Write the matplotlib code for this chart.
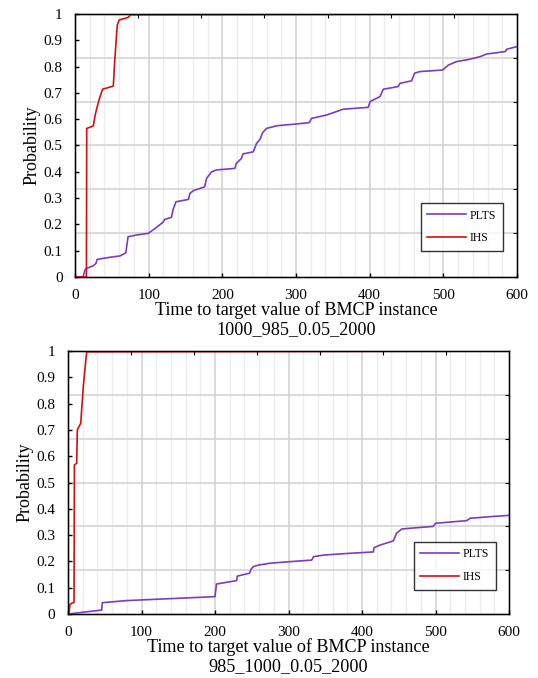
import numpy as np
import matplotlib
matplotlib.use("Agg")
import matplotlib.pyplot as plt

plt.rcParams['font.family'] = ['Liberation Serif', 'DejaVu Serif']

# ---------------- data ----------------
# Top chart: instance 1000_985_0.05_2000
top_plts_t = [0, 11, 13.6, 16, 25, 28.5, 30, 47.5, 61, 69, 72, 84, 99.5, 106, 113, 119, 122, 131, 133,
              137, 154, 156, 160.5, 176, 178.6, 185.5, 192, 217, 219, 226, 228, 242, 246.5, 251, 254.7,
              260, 273.7, 301, 318, 321, 341.7, 364, 398, 400.5, 414, 418.5, 438.6, 441, 457, 461, 468,
              499, 507, 518, 536, 550, 559, 584, 586, 600]
top_plts_p = [0, 0, 0.027, 0.033, 0.043, 0.052, 0.067, 0.075, 0.08, 0.092, 0.153, 0.16, 0.166, 0.179,
              0.194, 0.207, 0.219, 0.227, 0.255, 0.286, 0.295, 0.318, 0.328, 0.343, 0.375, 0.40, 0.407,
              0.413, 0.432, 0.451, 0.468, 0.476, 0.508, 0.523, 0.549, 0.565, 0.575, 0.582, 0.587, 0.603,
              0.616, 0.638, 0.645, 0.667, 0.686, 0.714, 0.724, 0.736, 0.746, 0.775, 0.781, 0.787, 0.806,
              0.819, 0.828, 0.838, 0.848, 0.857, 0.866, 0.876]
top_ihs_t = [0, 15.5, 15.9, 24.8, 27, 29.4, 34, 37.5, 52, 54, 57.4, 60, 72, 75.5, 600]
top_ihs_p = [0, 0, 0.565, 0.574, 0.61, 0.64, 0.686, 0.714, 0.726, 0.825, 0.958, 0.977, 0.987, 0.997, 1.0]

# Bottom chart: instance 985_1000_0.05_2000
bot_plts_t = [0.4, 45.8, 46.7, 80, 200, 202, 229.5, 230.3, 247, 249, 252, 259, 275, 302, 331.6, 334,
              347.8, 379, 415.5, 416.3, 424.5, 442.6, 447, 454, 465, 497, 500, 542.5, 547, 574, 600]
bot_plts_p = [0, 0.015, 0.043, 0.051, 0.066, 0.114, 0.127, 0.144, 0.155, 0.17, 0.18, 0.186, 0.193,
              0.199, 0.205, 0.218, 0.224, 0.23, 0.236, 0.252, 0.262, 0.278, 0.307, 0.323, 0.326, 0.333,
              0.345, 0.355, 0.364, 0.37, 0.375]
bot_ihs_t = [1.5, 2.5, 5, 8.2, 8.7, 11.8, 12.7, 17.3, 20.8, 23, 25.4, 600]
bot_ihs_p = [0, 0.035, 0.041, 0.044, 0.567, 0.573, 0.70, 0.725, 0.864, 0.928, 0.997, 1.0]

xticks = [0, 100, 200, 300, 400, 500, 600]
yticks = [0, 0.1, 0.2, 0.3, 0.4, 0.5, 0.6, 0.7, 0.8, 0.9, 1]
ytick_labels = ['0', '0.1', '0.2', '0.3', '0.4', '0.5', '0.6', '0.7', '0.8', '0.9', '1']
series_names = ['PLTS', 'IHS']
instances = ['1000_985_0.05_2000', '985_1000_0.05_2000']

PURPLE = '#7a3dbb'
RED = '#d11010'

fig = plt.figure(figsize=(5.38, 6.78), dpi=100)


def make_panel(rect, plts_t, plts_p, ihs_t, ihs_p, inst, leg_anchor):
    ax = fig.add_axes(rect)
    ax.set_xlim(0, 600)
    ax.set_ylim(0, 1)
    # minor vertical grid every 20
    for x in np.arange(20, 600, 20):
        if x % 100 == 0:
            ax.axvline(x, color='#d4d4d4', lw=1.2, zorder=0)
        else:
            ax.axvline(x, color='#ececec', lw=1.0, zorder=0)
    for y in np.arange(1, 6) / 6:
        ax.axhline(y, color='#d4d4d4', lw=1.2, zorder=0)
    l1, = ax.plot(plts_t, plts_p, color=PURPLE, lw=1.2, zorder=3)
    l2, = ax.plot(ihs_t, ihs_p, color=RED, lw=1.2, zorder=4)
    ax.set_xticks(xticks)
    ax.set_xticklabels([str(v) for v in xticks])
    ax.set_yticks(yticks)
    ax.set_yticklabels(ytick_labels)
    ax.tick_params(direction='in', length=3, width=1, labelsize=11, pad=9)
    ax.tick_params(axis='y', pad=9)
    for s in ax.spines.values():
        s.set_linewidth(1.0)
    ax.set_ylabel('Probability', fontsize=13, labelpad=2)
    ax.set_xlabel('Time to target value of BMCP instance\n' + inst, fontsize=13.1,
                  linespacing=1.15, labelpad=-1)
    # right / top ticks
    axr = ax.twinx()
    axr.set_ylim(0, 1)
    axr.set_yticks(np.arange(1, 6) / 6)
    axr.tick_params(direction='in', length=3, labelright=False)
    axt = ax.twiny()
    axt.set_xlim(0, 600)
    axt.set_xticks(np.arange(1, 7) * 600 / 7)
    axt.tick_params(direction='in', length=3, labeltop=False)
    leg = axt.legend([l1, l2], series_names, loc='lower right', bbox_to_anchor=leg_anchor,
                     fontsize=8.5, frameon=True, fancybox=False, edgecolor='black',
                     handlelength=3.3, handletextpad=0.3, borderpad=0.55, labelspacing=0.9,
                     borderaxespad=0)
    leg.get_frame().set_linewidth(1.0)
    return ax


make_panel([75 / 538, 1 - 277 / 678, 442 / 538, 263 / 678],
           top_plts_t, top_plts_p, top_ihs_t, top_ihs_p, instances[0], (0.968, 0.1))
make_panel([68 / 538, 1 - 614 / 678, 441 / 538, 263 / 678],
           bot_plts_t, bot_plts_p, bot_ihs_t, bot_ihs_p, instances[1], (0.97, 0.093))

fig.savefig('out.png', dpi=100)
